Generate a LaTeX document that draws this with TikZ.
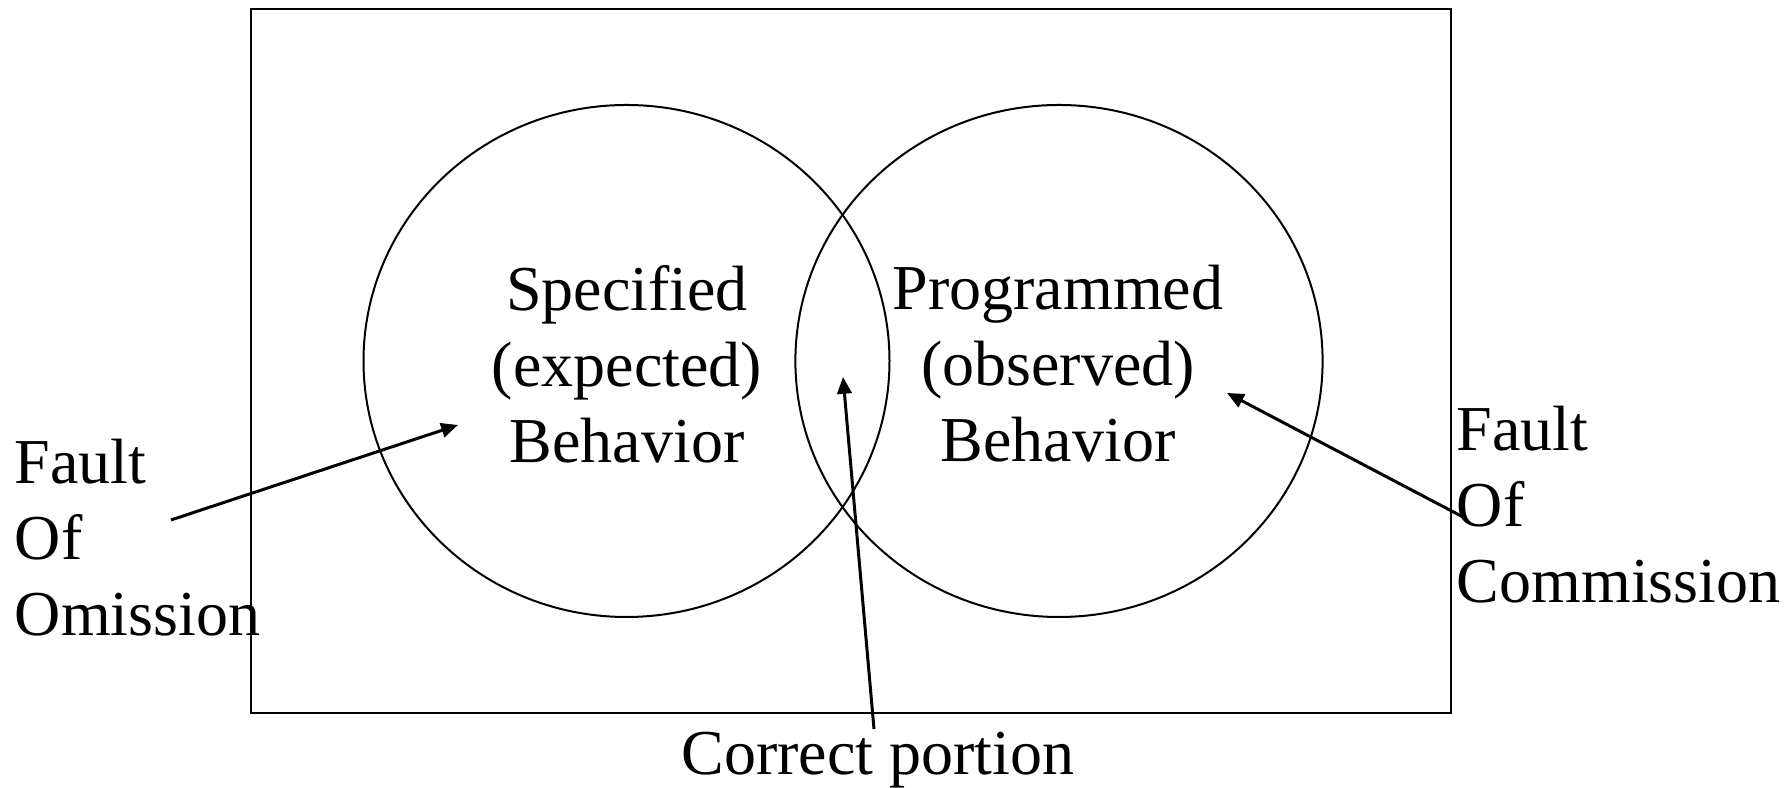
\documentclass[tikz,border=0pt]{standalone}
\usepackage{fontspec}
\setmainfont{Liberation Serif}
\usetikzlibrary{arrows.meta}
\begin{document}
\begin{tikzpicture}[x=0.25pt,y=-0.25pt,
  lbl/.style={inner sep=0pt,font=\fontsize{16}{19}\selectfont},
  pointer/.style={line width=0.75pt,-{Triangle[length=4.2pt,width=3.6pt]}},
  ring/.style={line width=0.5pt}]
\useasboundingbox (0,0) rectangle (1791,788);
\fill[white] (0,0) rectangle (1791,788);
\draw[line width=0.7pt] (251,9) rectangle (1451,713);
\draw[ring] (626.5,361) ellipse [x radius=65.75pt, y radius=64pt];
\draw[ring] (1059,361) ellipse [x radius=65.9pt, y radius=64pt];
\node[lbl,align=center] (spec) at (627,364) {Specified\\(expected)\\Behavior};
\node[lbl,align=center] (prog) at (1058,364) {Programmed\\(observed)\\Behavior};
\node[lbl,align=left,anchor=west] (omit) at (14,538) {Fault\\Of\\Omission};
\node[lbl,align=left,anchor=west] (comm) at (1456,505) {Fault\\Of\\Commission};
\node[lbl] (corr) at (878,760) {Correct portion};
\coordinate (omitS) at (171,520);
\coordinate (omitT) at (458,425);
\coordinate (commS) at (1463,517);
\coordinate (commT) at (1227,393);
\coordinate (corrS) at (874,729);
\coordinate (corrT) at (843,377);
\draw[pointer] (omitS) -- (omitT);
\draw[pointer] (commS) -- (commT);
\draw[pointer] (corrS) -- (corrT);
\end{tikzpicture}
\end{document}
